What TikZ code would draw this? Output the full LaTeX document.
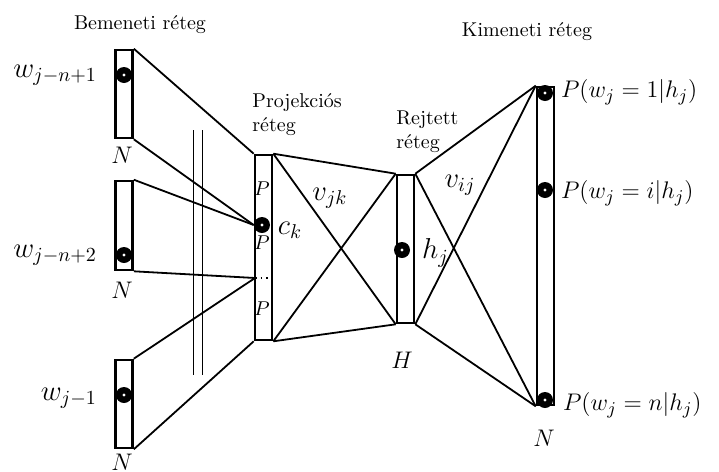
\documentclass[tikz,border=0pt]{standalone}
\usepackage{amsmath}
\usetikzlibrary{positioning}
\begin{document}
\begin{tikzpicture}[x=0.5pt,y=-0.5pt,
  reteg/.style={draw, line width=1.3pt, inner sep=0pt, minimum width=8.5pt},
  pont/.style={circle, fill=black, inner sep=0pt, minimum size=8pt,
               path picture={\fill[white] (path picture bounding box.center) circle (0.8pt);}},
  vonal/.style={line width=0.9pt},
  cimke/.style={font=\Large},
  valoszin/.style={font=\fontsize{13}{15}\selectfont, anchor=west}]
  \useasboundingbox (0,0) rectangle (719,472);
  % retegek
  \node[reteg, minimum height=44pt] (be1) at (124,94) {};
  \node[reteg, minimum height=44.5pt] (be2) at (124,225.5) {};
  \node[reteg, minimum height=44pt] (be3) at (124,404) {};
  \node[reteg, minimum height=92.5pt] (proj) at (263.5,247.5) {};
  \node[reteg, minimum height=74pt] (rejt) at (405.5,249) {};
  \node[reteg, minimum height=159pt] (ki) at (545.5,246) {};
  % egysegek
  \node[pont] (d1) at (124,75) {};
  \node[pont] (d2) at (124,255) {};
  \node[pont] (d3) at (124,395) {};
  \node[pont] (pc) at (262,225) {};
  \node[pont] (ph) at (402,250) {};
  \node[pont] (k1) at (545,93) {};
  \node[pont] (ki1) at (545,190) {};
  \node[pont] (kn) at (545,400) {};
  \coordinate (pd) at (255,278);
  % bemenet -> projekcio
  \draw[vonal] (be1.north east) -- (proj.north west);
  \draw[vonal] (be1.south east) -- (proj.west |- pc);
  \draw[vonal] (be2.north east) -- (proj.west |- pc);
  \draw[vonal] (be2.south east) -- (pd);
  \draw[vonal] (be3.north east) -- (pd);
  \draw[vonal] (be3.south east) -- (proj.south west);
  \draw[dotted, thick] (pd) -- (proj.east |- pd);
  \draw (193,130) -- (193,375);
  \draw (202,130) -- (202,375);
  % projekcio -> rejtett
  \draw[vonal] (proj.north east) -- (rejt.north west);
  \draw[vonal] (proj.north east) -- (rejt.south west);
  \draw[vonal] (proj.south east) -- (rejt.north west);
  \draw[vonal] (proj.south east) -- (rejt.south west);
  % rejtett -> kimenet
  \draw[vonal] (rejt.north east) -- (ki.north west);
  \draw[vonal] (rejt.north east) -- (ki.south west);
  \draw[vonal] (rejt.south east) -- (ki.north west);
  \draw[vonal] (rejt.south east) -- (ki.south west);
  % feliratok
  \node (tbe) at (140,25) {Bemeneti réteg};
  \node (tki) at (527,32) {Kimeneti réteg};
  \node[anchor=north west, align=left, inner sep=0pt] (tproj) at (252,93)
       {Projekciós\\réteg};
  \node[anchor=north west, align=left, inner sep=0pt] (trejt) at (396,110)
       {Rejtett\\réteg};
  \node[cimke, anchor=east] (lw1) at (104,75) {$w_{j-n+1}$};
  \node[cimke, anchor=east] (lw2) at (104,255) {$w_{j-n+2}$};
  \node[cimke, anchor=east] (lw3) at (104,398) {$w_{j-1}$};
  \node[font=\large] (n1) at (122,155) {$N$};
  \node[font=\large] (n2) at (122,290) {$N$};
  \node[font=\large] (n3) at (122,462) {$N$};
  \node (p1) at (262,189) {$P$};
  \node (p2) at (262,243) {$P$};
  \node (p3) at (262,309) {$P$};
  \node[cimke] (lc) at (290,230) {$c_k$};
  \node[cimke] (lvjk) at (330,198) {$v_{jk}$};
  \node[cimke, anchor=west] (lh) at (415,253) {$h_j$};
  \node[font=\large] (lH) at (402,360) {$H$};
  \node[cimke] (lvij) at (460,185) {$v_{ij}$};
  \node[valoszin] (lp1) at (554,92) {$P(w_j=1|h_j)$};
  \node[valoszin] (lpi) at (554,193) {$P(w_j=i|h_j)$};
  \node[valoszin] (lpn) at (556,405) {$P(w_j=n|h_j)$};
  \node[font=\large] (n4) at (544,438) {$N$};
\end{tikzpicture}
\end{document}
